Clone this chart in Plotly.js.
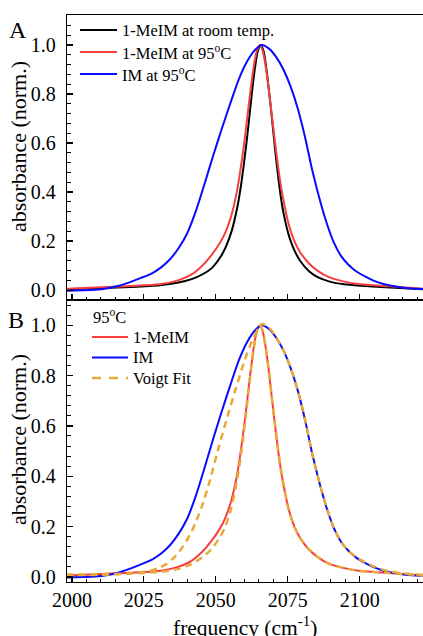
<!DOCTYPE html>
<html>
<head>
<meta charset="utf-8">
<script src="https://cdn.plot.ly/plotly-3.0.1.min.js"></script>
<style>html,body{margin:0;padding:0;background:#fff;}#chart{width:423px;height:636px;}</style>
</head>
<body>
<div id="chart"></div>
<script>
// 1-MeIM at room temperature (panel A, black)
var meimRoomX = [1998,2010.6,2020.6,2030.6,2036.6,2041.6,2045.6,2048.6,2051.6,2053.6,2055.6,2057.6,2058.6,2059.6,2060.6,2061.6,2062.6,2063.6,2064.6,2065.6,2066.6,2067.6,2068.6,2069.6,2070.6,2071.6,2072.6,2073.6,2075.6,2077.6,2079.6,2082.6,2085.6,2089.6,2094.6,2100.6,2110.6,2122];
var meimRoomY = [0.004,0.009,0.013,0.02,0.03,0.045,0.066,0.09,0.135,0.18,0.245,0.345,0.415,0.50,0.595,0.70,0.81,0.905,0.975,1.0,0.975,0.90,0.80,0.69,0.575,0.47,0.38,0.31,0.215,0.155,0.115,0.075,0.052,0.035,0.024,0.018,0.011,0.004];

// 1-MeIM at 95 C (red, panels A and B)
var meimHotX = [1998,2010.3,2020.3,2030.3,2036.3,2041.3,2045.3,2048.3,2051.3,2053.3,2055.3,2057.3,2058.3,2059.3,2060.3,2061.3,2062.3,2063.3,2064.3,2065.3,2066.3,2067.3,2068.3,2069.3,2070.3,2071.3,2072.3,2073.3,2075.3,2077.3,2079.3,2082.3,2085.3,2089.3,2094.3,2100.3,2110.3,2122];
var meimHotY = [0.006,0.012,0.017,0.024,0.038,0.062,0.10,0.14,0.19,0.235,0.30,0.40,0.47,0.55,0.64,0.74,0.835,0.92,0.978,1.0,0.976,0.915,0.83,0.73,0.63,0.535,0.45,0.38,0.27,0.20,0.155,0.11,0.08,0.053,0.036,0.024,0.016,0.006];

// IM at 95 C (blue, panels A and B)
var imX = [1998,2004,2008,2012,2016,2020,2024,2028,2031,2034,2037,2040,2043,2046,2049,2052,2055,2058,2061,2063.5,2066,2068.5,2071,2073.5,2076,2078.5,2081,2083.5,2086,2088.5,2091,2093.5,2096,2099,2102,2105,2108,2111,2114,2118,2122];
var imY = [-0.002,0.0,0.002,0.007,0.017,0.032,0.05,0.07,0.093,0.125,0.17,0.23,0.32,0.43,0.545,0.655,0.76,0.86,0.935,0.978,1.0,0.985,0.95,0.90,0.83,0.74,0.625,0.49,0.375,0.275,0.195,0.14,0.105,0.075,0.055,0.038,0.026,0.018,0.012,0.007,0.005];

// Voigt fit of 1-MeIM at 95 C (orange dashed)
var fitMeimX = [1998,2010.3,2020.3,2030.3,2036.3,2041.3,2045.3,2048.3,2051.3,2053.3,2055.3,2057.3,2058.3,2059.3,2060.3,2061.3,2062.3,2063.3,2064.3,2065.3,2066.3,2067.3,2068.3,2069.3,2070.3,2071.3,2072.3,2073.3,2075.3,2077.3,2079.3,2082.3,2085.3,2089.3,2094.3,2100.3,2110.3,2122];
var fitMeimY = [0.007,0.009,0.013,0.02,0.03,0.05,0.078,0.108,0.155,0.20,0.27,0.38,0.45,0.535,0.63,0.73,0.83,0.915,0.976,1.0,0.976,0.915,0.83,0.73,0.63,0.535,0.45,0.38,0.27,0.20,0.155,0.11,0.08,0.053,0.036,0.024,0.016,0.006];

// Voigt fit of IM at 95 C (orange dashed)
var fitImX = [1998,2005,2010,2015,2020,2024,2027,2030,2033,2036,2039,2042,2045,2048,2051,2054,2057,2060,2062.5,2064.5,2066,2068.5,2071,2073.5,2076,2078.5,2081,2083.5,2086,2088.5,2091,2093.5,2096,2099,2102,2105,2108,2111,2114,2118,2122];
var fitImY = [0.010,0.010,0.011,0.012,0.014,0.018,0.024,0.035,0.053,0.083,0.128,0.19,0.275,0.385,0.515,0.635,0.75,0.86,0.935,0.98,1.005,0.99,0.952,0.90,0.83,0.74,0.625,0.49,0.375,0.275,0.195,0.14,0.105,0.077,0.057,0.041,0.029,0.021,0.015,0.011,0.009];

var xTickVals = [2000,2025,2050,2075,2100];
var yTickVals = [0.0,0.2,0.4,0.6,0.8,1.0];
var legendANames = ['1-MeIM at room temp.', '1-MeIM at 95<sup>o</sup>C', 'IM at 95<sup>o</sup>C'];
var legendBTitle = '95<sup>o</sup>C';
var legendBNames = ['1-MeIM', 'IM', 'Voigt Fit'];
var xTitle = 'frequency (cm<sup>-1</sup>)';
var yTitle = 'absorbance (norm.)';

var RED = '#f5403f', BLUE = '#0a0aff', ORANGE = '#e9a93a', BLACK = '#000000';
var FONT = 'Liberation Serif';

function ln(x, y, name, color, xa, ya, dash, width) {
  return {x: x, y: y, name: name, type: 'scatter', mode: 'lines',
    xaxis: xa, yaxis: ya, showlegend: false,
    line: {color: color, width: width || 2, dash: dash || 'solid', shape: 'spline', smoothing: 0.7}};
}

var data = [
  ln(meimRoomX, meimRoomY, legendANames[0], BLACK, 'x2', 'y2'),
  ln(meimHotX, meimHotY, legendANames[1], RED, 'x2', 'y2'),
  ln(imX, imY, legendANames[2], BLUE, 'x2', 'y2'),
  ln(meimHotX, meimHotY, legendBNames[0], RED, 'x', 'y'),
  ln(imX, imY, legendBNames[1], BLUE, 'x', 'y'),
  ln(fitMeimX, fitMeimY, legendBNames[2], ORANGE, 'x', 'y', '7px,5px', 2.5),
  ln(fitImX, fitImY, legendBNames[2], ORANGE, 'x', 'y', '7px,5px', 2.5)
];

// pixel -> paper helpers (plot area: x 67..423, y 15..582)
function px(x) { return (x - 67) / 356; }
function py(y) { return (582 - y) / 567; }

var splitFrac = 282/567;
var xBase = {
  range: [1998.3, 2122], tickvals: xTickVals, ticks: 'inside', ticklen: 6, tickwidth: 1.3,
  tickcolor: '#000', showline: true, linecolor: '#000', linewidth: 1.3, mirror: true,
  showgrid: false, zeroline: false,
  minor: {dtick: 5, tick0: 2000, ticks: 'inside', ticklen: 3.5, tickwidth: 1, tickcolor: '#000'}
};
var yBase = {
  tickvals: yTickVals, tickformat: '.1f', ticks: 'inside', ticklen: 6, tickwidth: 1.3,
  tickcolor: '#000', showline: true, linecolor: '#000', linewidth: 1.3, mirror: false,
  showgrid: false, zeroline: false, ticklabelstandoff: 6,
  tickfont: {size: 20, family: FONT},
  minor: {dtick: 0.04, tick0: 0, ticks: 'inside', ticklen: 3.5, tickwidth: 1, tickcolor: '#000'}
};

var shapes = [], annotations = [];
var legAColors = [BLACK, RED, BLUE], legARows = [30, 52, 74];
for (var i = 0; i < 3; i++) {
  shapes.push({type: 'line', xref: 'paper', yref: 'paper', x0: px(80), x1: px(117),
    y0: py(legARows[i]), y1: py(legARows[i]), line: {color: legAColors[i], width: 2}});
  annotations.push({text: legendANames[i], xref: 'paper', yref: 'paper', x: px(120), y: py(legARows[i]),
    xanchor: 'left', yanchor: 'middle', showarrow: false, font: {size: 16.5, family: FONT}});
}
var legBColors = [RED, BLUE, ORANGE], legBRows = [337, 357.5, 378];
for (var j = 0; j < 3; j++) {
  shapes.push({type: 'line', xref: 'paper', yref: 'paper', x0: px(92), x1: px(128),
    y0: py(legBRows[j]), y1: py(legBRows[j]),
    line: {color: legBColors[j], width: j === 2 ? 2.5 : 2, dash: j === 2 ? '9px,8px' : 'solid'}});
  annotations.push({text: legendBNames[j], xref: 'paper', yref: 'paper', x: px(131), y: py(legBRows[j]),
    xanchor: 'left', yanchor: 'middle', showarrow: false, font: {size: 16.5, family: FONT}});
}
annotations.push({text: legendBTitle, xref: 'paper', yref: 'paper', x: px(91), y: py(316),
  xanchor: 'left', yanchor: 'middle', showarrow: false, font: {size: 16.5, family: FONT}});
annotations.push({text: 'A', xref: 'paper', yref: 'paper', x: px(18), y: py(30), showarrow: false,
  xanchor: 'center', yanchor: 'middle', font: {size: 24, family: FONT}});
annotations.push({text: 'B', xref: 'paper', yref: 'paper', x: px(16), y: py(320), showarrow: false,
  xanchor: 'center', yanchor: 'middle', font: {size: 24, family: FONT}});
annotations.push({text: yTitle, xref: 'paper', yref: 'paper', x: px(18), y: py(147),
  showarrow: false, textangle: -90, xanchor: 'center', yanchor: 'middle', font: {size: 22, family: FONT}});
annotations.push({text: yTitle, xref: 'paper', yref: 'paper', x: px(18), y: py(440),
  showarrow: false, textangle: -90, xanchor: 'center', yanchor: 'middle', font: {size: 22, family: FONT}});
annotations.push({text: xTitle, xref: 'paper', yref: 'paper', x: px(245), y: py(611),
  showarrow: false, xanchor: 'center', yanchor: 'top', font: {size: 21.5, family: FONT}});

var layout = {
  width: 423, height: 636,
  margin: {l: 67, r: 0, t: 15, b: 54, pad: 0},
  paper_bgcolor: '#fff', plot_bgcolor: '#fff',
  font: {family: FONT, color: '#000', size: 20},
  showlegend: false,
  xaxis: Object.assign({}, xBase, {anchor: 'y', domain: [0, 1], tickfont: {size: 20, family: FONT}}),
  xaxis2: Object.assign({}, xBase, {anchor: 'y2', domain: [0, 1], matches: 'x', showticklabels: false}),
  yaxis: Object.assign({}, yBase, {anchor: 'x', domain: [0, splitFrac], range: [-0.02, 1.1]}),
  yaxis2: Object.assign({}, yBase, {anchor: 'x2', domain: [splitFrac, 1], range: [-0.04, 1.122]}),
  shapes: shapes,
  annotations: annotations
};

Plotly.newPlot('chart', data, layout, {staticPlot: true, displayModeBar: false});
</script>
</body>
</html>
